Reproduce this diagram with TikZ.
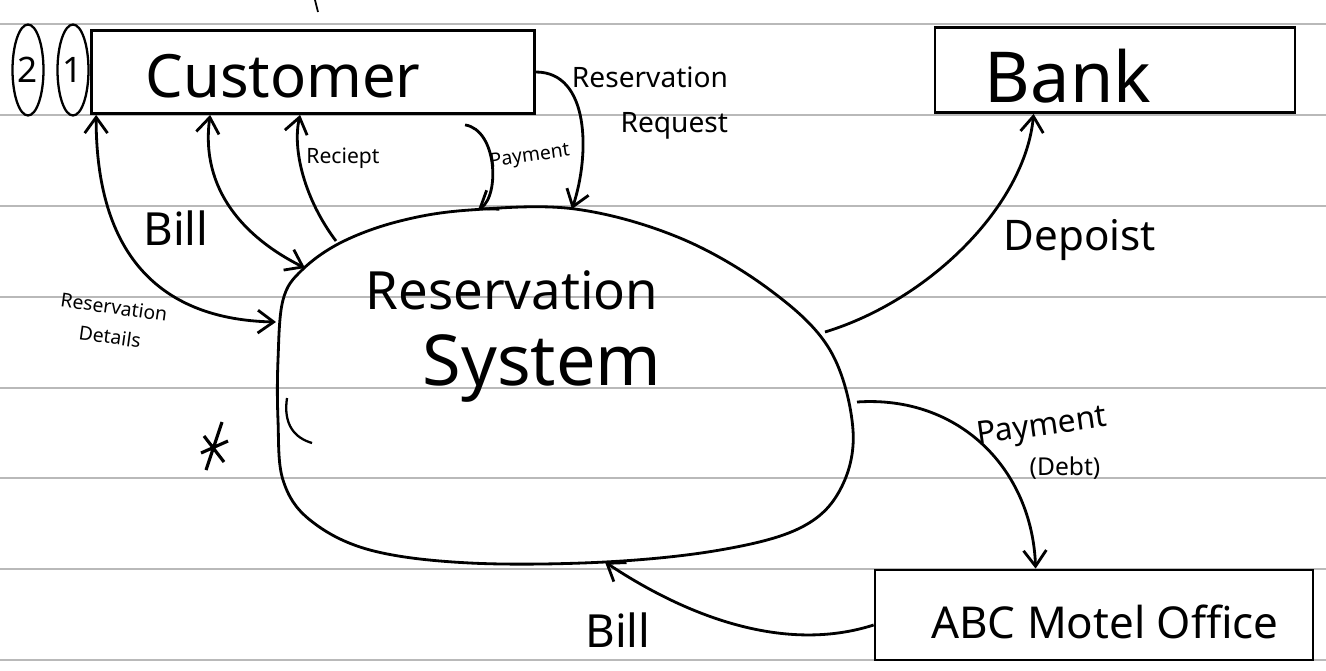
\documentclass[tikz,border=0pt]{standalone}
\usepackage{fontspec}
\setmainfont{Noto Sans}
\usetikzlibrary{shapes.geometric,arrows.meta}

\tikzset{
  entity/.style={draw,line width=1.6pt,inner sep=0pt},
  tag/.style={draw,ellipse,line width=1.3pt,inner sep=0pt,minimum width=0.62cm,minimum height=1.82cm,font=\fontsize{20}{22}\selectfont},
  flow/.style={line width=1.6pt},
  lbl/.style={inner sep=1pt,align=center}
}

\begin{document}
\begin{tikzpicture}[x=0.02cm,y=-0.02cm,>={Straight Barb[length=9pt,width=13pt]}]
\useasboundingbox (0,0) rectangle (1326,670);

% ruled paper
\foreach \y in {24,115,206,297,388,478,569,660}
  \draw[gray!55,line width=0.6pt] (0,\y) -- (1326,\y);

% external entities
\node[entity,minimum width=8.86cm,minimum height=1.66cm] (cust) at (313,72) {};
\node[entity,minimum width=7.2cm,minimum height=1.7cm] (bank) at (1115,70) {};
\node[entity,minimum width=8.76cm,minimum height=1.8cm] (abc) at (1094,615) {};
\node[tag] (two) at (28,70) {2};
\node[tag] (one) at (73,70) {1};

\node[font=\fontsize{34}{36}\selectfont] (custtxt) at (283,76) {Customer};
\node[font=\fontsize{40}{42}\selectfont] (banktxt) at (1068,76) {Bank};
\node[font=\fontsize{25}{27}\selectfont] (abctxt) at (1105,622) {ABC Motel Office};

% the process
\draw[flow] plot[smooth cycle,tension=0.6] coordinates {(278,360) (283,300) (302,270) (342,242) (400,221) (470,210) (575,209) (680,238) (770,290) (830,350) (853,430) (840,490) (800,528) (720,550) (605,562) (470,563) (370,550) (310,520) (283,480) (278,420)};
\node[font=\fontsize{30}{32}\selectfont] (res) at (512,290) {Reservation};
\node[font=\fontsize{40}{42}\selectfont] (sys) at (542,368) {System};

\foreach \n/\x/\y in {s1/276/322, s2/305/268, s3/336/241, s4/478/210, s5/572/209, s6/825/332, s7/857/402, s8/605/562}
  \coordinate (\n) at (\x,\y);

% data flows
\draw[flow,<->] ([xshift=0.12cm]cust.south west) .. controls (96,275) and (180,320) .. (s1);
\draw[flow,<->] ([xshift=2.4cm]cust.south west) .. controls (200,190) and (245,238) .. (s2);
\draw[flow,->] (s3) .. controls (305,200) and (292,150) .. ([xshift=4.2cm]cust.south west);
\draw[flow,->] ([xshift=7.5cm,yshift=-0.2cm]cust.south west) .. controls (497,130) and (500,195) .. (s4);
\draw[flow,->] (cust.east) .. controls (590,72) and (590,155) .. (s5);
\draw[flow,->] (s6) .. controls (930,300) and (1025,205) .. ([xshift=2cm]bank.south west);
\draw[flow,->] (s7) .. controls (960,395) and (1032,470) .. ([xshift=3.24cm]abc.north west);
\draw[flow,->] ([yshift=-0.2cm]abc.west) .. controls (780,655) and (680,612) .. (s8);

% flow labels
\node[lbl,font=\fontsize{26}{28}\selectfont] (billa) at (176,228) {Bill};
\node[lbl,font=\fontsize{11}{17}\selectfont,rotate=-8] (details) at (112,322) {Reservation\\Details};
\node[lbl,font=\fontsize{12}{14}\selectfont] (reciept) at (343,158) {Reciept};
\node[lbl,font=\fontsize{11}{13}\selectfont,rotate=8] (paya) at (530,157) {Payment};
\node[lbl,font=\fontsize{16}{26}\selectfont,align=right] (request) at (650,103) {Reservation\\Request};
\node[lbl,font=\fontsize{24}{26}\selectfont] (deposit) at (1080,240) {Depoist};
\node[lbl,font=\fontsize{18}{22}\selectfont,rotate=8] (payb) at (1042,428) {Payment};
\node[lbl,font=\fontsize{14}{16}\selectfont] (debt) at (1065,468) {(Debt)};
\node[lbl,font=\fontsize{26}{28}\selectfont] (billb) at (618,630) {Bill};

% stray marks
\draw[line width=1.8pt] (206,470) -- (222,422) (201,453) -- (228,441) (204,436) -- (224,462);
\draw[line width=1.3pt] (287,398) .. controls (283,425) and (295,438) .. (312,443);
\draw[line width=1pt] (315,0) -- (318,12);
\end{tikzpicture}
\end{document}
